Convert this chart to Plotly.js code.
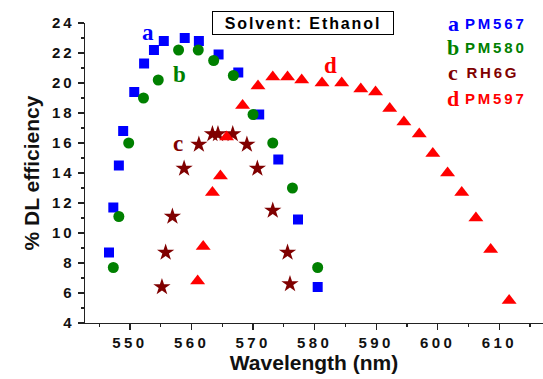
<!DOCTYPE html>
<html>
<head>
<meta charset="utf-8">
<script src="https://cdn.plot.ly/plotly-3.0.1.min.js"></script>
<style>
  html, body { margin: 0; padding: 0; background: #fff; }
  #chart { width: 543px; height: 379px; }
  .xtick text { letter-spacing: 3.4px; }
  .ytick text { letter-spacing: 3px; }
  g.annotation[data-index="0"] text.annotation-text { letter-spacing: 1.9px; }
  g.annotation[data-index="1"] text.annotation-text,
  g.annotation[data-index="4"] text.annotation-text,
  g.annotation[data-index="7"] text.annotation-text,
  g.annotation[data-index="10"] text.annotation-text { letter-spacing: 2.8px; }
</style>
</head>
<body>
<div id="chart"></div>
<script>
// ---- data ----
const wlPM567  = [546.6, 547.3, 548.2, 548.9, 550.7, 552.3, 553.9, 555.5, 558.9, 561.2, 564.4, 567.6, 571.0, 574.1, 577.3, 580.5];
const effPM567 = [8.7, 11.7, 14.5, 16.8, 19.4, 21.3, 22.2, 22.8, 23.0, 22.8, 21.9, 20.7, 17.9, 14.9, 10.9, 6.4];

const wlPM580  = [547.3, 548.2, 549.8, 552.2, 554.6, 557.9, 561.1, 563.6, 566.8, 570.0, 573.2, 576.4, 580.5];
const effPM580 = [7.7, 11.1, 16.0, 19.0, 20.2, 22.2, 22.2, 21.5, 20.5, 17.9, 16.0, 13.0, 7.7];

const wlRH6G  = [555.2, 555.8, 556.9, 558.8, 561.2, 563.4, 564.3, 566.7, 569.0, 570.7, 573.2, 575.6, 576.0];
const effRH6G = [6.4, 8.7, 11.1, 14.3, 15.9, 16.6, 16.6, 16.6, 15.9, 14.3, 11.5, 8.7, 6.6];

const wlPM597  = [561.0, 561.9, 563.4, 564.7, 565.7, 568.3, 570.8, 573.2, 575.6, 577.9, 581.2, 584.4, 587.5, 589.9, 592.2, 594.5, 597.0, 599.2, 601.6, 603.9, 606.2, 608.6, 611.6];
const effPM597 = [6.8, 9.1, 12.7, 13.8, 16.4, 18.5, 19.8, 20.4, 20.4, 20.2, 20.0, 20.0, 19.6, 19.4, 18.3, 17.4, 16.6, 15.3, 14.0, 12.7, 11.0, 8.9, 5.5];

const seriesNames  = ['PM567', 'PM580', 'RH6G', 'PM597'];
const seriesLetters = ['a', 'b', 'c', 'd'];
const seriesColors = ['#0000FF', '#008000', '#800000', '#FF0000'];
const titleText = 'Solvent: Ethanol';
const xTitle = 'Wavelength (nm)';
const yTitle = '% DL efficiency';

// label placements (data coordinates)
const curveLabelX = [552.9, 558.0, 557.8, 582.5];
const curveLabelY = [23.4, 20.6, 16.0, 21.2];
const legendRowY  = [23.95, 22.4, 20.7, 19.0];

const sans = 'Liberation Sans, Arial, sans-serif';
const serif = 'Liberation Serif, Times New Roman, serif';

const traces = [
  {x: wlPM567, y: effPM567, name: seriesNames[0], mode: 'markers', type: 'scatter',
   marker: {symbol: 'square', size: 10, color: seriesColors[0]}},
  {x: wlPM580, y: effPM580, name: seriesNames[1], mode: 'markers', type: 'scatter',
   marker: {symbol: 'circle', size: 11, color: seriesColors[1]}},
  {x: wlRH6G, y: effRH6G, name: seriesNames[2], mode: 'markers', type: 'scatter',
   marker: {symbol: 'star', size: 13, color: seriesColors[2]}},
  {x: wlPM597, y: effPM597, name: seriesNames[3], mode: 'markers', type: 'scatter',
   marker: {symbol: 'triangle-up', size: 13, color: seriesColors[3]}}
];

const annotations = [];
annotations.push({
  x: 578.1, y: 23.97, xref: 'x', yref: 'y', text: titleText, showarrow: false,
  xanchor: 'center', yanchor: 'middle', width: 176, height: 18,
  bordercolor: '#000', borderwidth: 1, borderpad: 2, bgcolor: '#fff',
  font: {family: sans, size: 16, weight: 'bold', color: '#000'}
});
for (let i = 0; i < 4; i++) {
  annotations.push({
    x: 605.3, y: legendRowY[i], xref: 'x', yref: 'y', text: seriesNames[i], showarrow: false,
    xanchor: 'left', yanchor: 'middle',
    font: {family: sans, size: 15, weight: 'bold', color: seriesColors[i]}
  });
  annotations.push({
    x: 602.5, y: legendRowY[i], xref: 'x', yref: 'y', text: seriesLetters[i], showarrow: false,
    xanchor: 'center', yanchor: 'middle',
    font: {family: serif, size: 22, weight: 'bold', color: seriesColors[i]}
  });
  annotations.push({
    x: curveLabelX[i], y: curveLabelY[i], xref: 'x', yref: 'y', text: seriesLetters[i], showarrow: false,
    xanchor: 'center', yanchor: 'middle',
    font: {family: serif, size: 23, weight: 'bold', color: seriesColors[i]}
  });
}

const axisCommon = {
  showgrid: false, zeroline: false, showline: true, linecolor: '#222', linewidth: 1.3,
  ticks: 'outside', ticklen: 6, tickwidth: 1.3, tickcolor: '#222',
  tickfont: {family: sans, size: 15, weight: 'bold', color: '#111'},
  automargin: false
};

const layout = {
  width: 543, height: 379,
  margin: {l: 85, r: 0, t: 23, b: 56},
  paper_bgcolor: '#fff', plot_bgcolor: '#fff',
  showlegend: false,
  xaxis: Object.assign({}, axisCommon, {
    range: [542.7, 617.1], tick0: 550, dtick: 10,
    minor: {dtick: 5, tick0: 545, ticks: 'outside', ticklen: 3, tickwidth: 1.2, tickcolor: '#222'},
    title: {text: xTitle, standoff: 3, font: {family: sans, size: 21, weight: 'bold', color: '#111'}}
  }),
  yaxis: Object.assign({}, axisCommon, {
    range: [4, 24], tick0: 4, dtick: 2,
    minor: {dtick: 1, ticks: 'outside', ticklen: 3, tickwidth: 1.2, tickcolor: '#222'},
    title: {text: yTitle, standoff: 6, font: {family: sans, size: 21, weight: 'bold', color: '#111'}}
  }),
  annotations: annotations
};

Plotly.newPlot('chart', traces, layout, {staticPlot: true, displayModeBar: false});
</script>
</body>
</html>
